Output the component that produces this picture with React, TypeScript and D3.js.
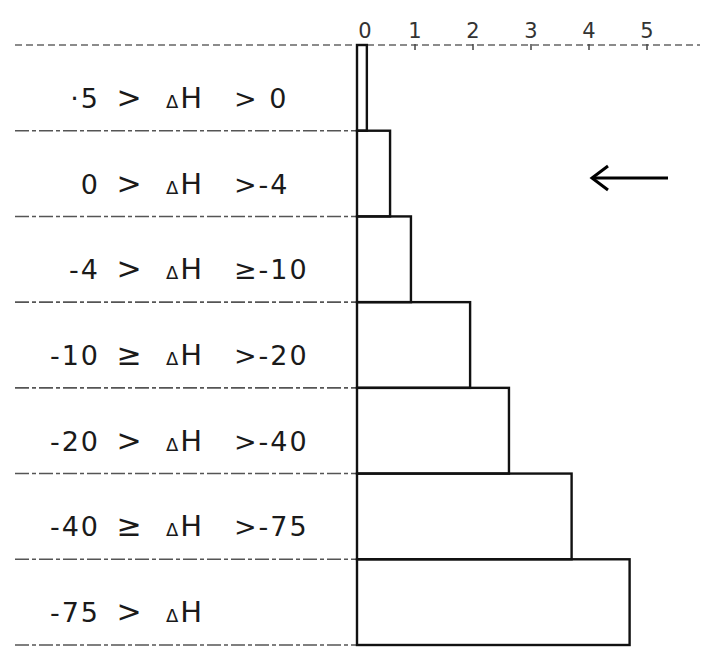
import React from "react";
import * as d3 from "d3";

const leftParts = ["·5", "0", "-4", "-10", "-20", "-40", "-75"];
const leftRel = [">", ">", ">", "≥", ">", "≥", ">"];
const rightParts = ["> 0", ">-4", "≥-10", ">-20", ">-40", ">-75", ""];
const categories = leftParts.map((l, i) => `row${i}`);
const values = [0.17, 0.57, 0.93, 1.95, 2.62, 3.7, 4.7];
const tickValues = [0, 1, 2, 3, 4, 5];

export default function App() {
  const W = 724, H = 647;
  const x = d3.scaleLinear().domain([0, 5]).range([357, 647]);
  const y = d3.scaleBand<string>().domain(categories).range([45, 645]).paddingInner(0);
  const bw = y.bandwidth();
  const font = "'DejaVu Sans', Verdana, sans-serif";
  return (
    <svg width={W} height={H} style={{ position: "absolute", left: 0, top: 0, background: "#fff" }}>
      <rect x={0} y={0} width={W} height={H} fill="#fff" />
      {/* top axis line */}
      <line x1={15} x2={700} y1={45} y2={45} stroke="#666" strokeWidth={1.5} strokeDasharray="7,4" />
      {tickValues.map((t) => (
        <g key={t}>
          <line x1={x(t)} x2={x(t)} y1={44} y2={50} stroke="#444" strokeWidth={1.5} />
          <text x={x(t) + (t === 0 ? 8 : 0)} y={38} textAnchor="middle" fontFamily={font} fontSize={21} fill="#333">{t}</text>
        </g>
      ))}
      {/* row separators on the left */}
      {categories.map((c, i) => (
        <line key={c} x1={15} x2={357} y1={(y(c) as number) + bw} y2={(y(c) as number) + bw} stroke="#555" strokeWidth={1.6} strokeDasharray="14,3,4,3" />
      ))}
      {/* bars */}
      {categories.map((c, i) => (
        <rect key={c} x={x(0)} y={y(c) as number} width={x(values[i]) - x(0)} height={bw} fill="none" stroke="#111" strokeWidth={2.4} />
      ))}
      {/* baseline */}
      <line x1={x(0)} x2={x(0)} y1={45} y2={645} stroke="#111" strokeWidth={2} strokeDasharray="9,2" />
      {/* labels */}
      {categories.map((c, i) => {
        const cy = (y(c) as number) + bw / 2 + 20;
        return (
          <g key={c} fontFamily={font} fontSize={27} fill="#1a1a1a" letterSpacing={2}>
            <text x={100} y={cy} textAnchor="end">{leftParts[i]}</text>
            <text x={130} y={cy} textAnchor="middle" fontSize={30}>{leftRel[i]}</text>
            <text x={166} y={cy}><tspan fontSize={18}>Δ</tspan><tspan fontSize={29}>H</tspan></text>
            <text x={234} y={cy}>{rightParts[i]}</text>
          </g>
        );
      })}
      {/* arrow */}
      <line x1={594} x2={668} y1={178} y2={178} stroke="#000" strokeWidth={3} />
      <path d="M608,166 L592,178 L608,190" fill="none" stroke="#000" strokeWidth={3} strokeLinejoin="miter" />
    </svg>
  );
}
